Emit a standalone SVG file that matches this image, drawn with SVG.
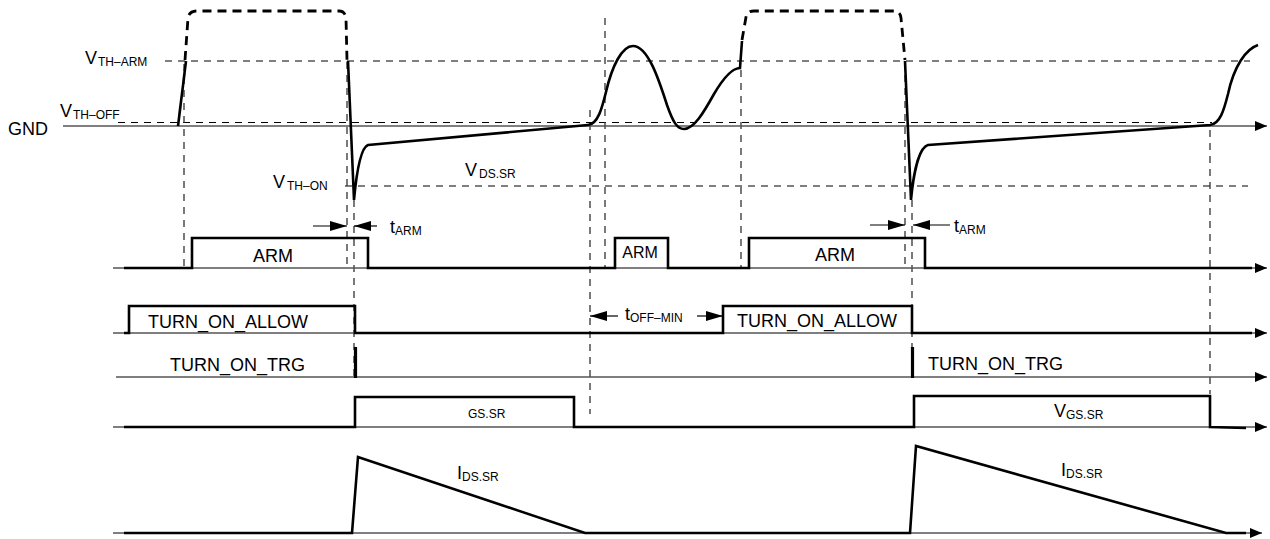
<svg xmlns="http://www.w3.org/2000/svg" width="1270" height="539" viewBox="0 0 1270 539">
<defs>
<style>
text{font-family:"Liberation Sans",Arial,sans-serif;font-size:18px;fill:#000}
.sub{font-size:12px}
.axis{stroke:#555;stroke-width:1.3;fill:none}
.sig{stroke:#000;stroke-width:2.6;fill:none;stroke-linejoin:miter}
.dash{stroke:#000;stroke-width:1.1;stroke-dasharray:7,6;fill:none}
.dashv{stroke:#333;stroke-width:1.3;stroke-dasharray:7,6;fill:none}
.dpulse{stroke:#000;stroke-width:2.8;stroke-dasharray:9,6;fill:none}
.dim{stroke:#000;stroke-width:1.2;fill:none}
</style>
<marker id="arr" viewBox="0 0 12 10" refX="12" refY="5" markerWidth="12" markerHeight="10" markerUnits="userSpaceOnUse" orient="auto">
<path d="M0,0 L12,5 L0,10 Z" fill="#000"/>
</marker>
<marker id="dimarr" viewBox="0 0 17 10" refX="17" refY="5" markerWidth="17" markerHeight="10" markerUnits="userSpaceOnUse" orient="auto">
<path d="M0,0 L17,5 L0,10 Z" fill="#000"/>
</marker>
</defs>

<g id="threshold-lines">
<line class="dash" x1="165" y1="61" x2="1250" y2="61"/>
<line class="dash" x1="118" y1="122.5" x2="1212" y2="122.5"/>
<line class="dash" x1="345" y1="186" x2="1248" y2="186"/>
</g>

<g id="time-markers">
<line class="dashv" x1="184" y1="64" x2="184" y2="268"/>
<line class="dashv" x1="347" y1="62" x2="347" y2="268"/>
<line class="dashv" x1="354" y1="200" x2="354" y2="378"/>
<line class="dashv" x1="590" y1="110" x2="590" y2="414"/>
<line class="dashv" x1="605" y1="18" x2="605" y2="268"/>
<line class="dashv" x1="741" y1="70" x2="741" y2="268"/>
<line class="dashv" x1="905" y1="62" x2="905" y2="268"/>
<line class="dashv" x1="912" y1="200" x2="912" y2="378"/>
<line class="dashv" x1="1210" y1="130" x2="1210" y2="394"/>
</g>

<g id="axes">
<line class="axis" x1="63" y1="126" x2="1267" y2="126" marker-end="url(#arr)"/>
<line class="axis" x1="113" y1="268" x2="1267" y2="268" marker-end="url(#arr)"/>
<line class="axis" x1="113" y1="333" x2="1267" y2="333" marker-end="url(#arr)"/>
<line class="axis" x1="116" y1="377" x2="1267" y2="377" marker-end="url(#arr)"/>
<line class="axis" x1="113" y1="427" x2="1267" y2="427" marker-end="url(#arr)"/>
<line class="axis" x1="113" y1="533" x2="1262" y2="533" marker-end="url(#arr)"/>
</g>

<g id="vds-waveform">
<path class="dpulse" d="M185,60 L188,18 Q189,11 197,11 L339,11 Q345,11 346,18 L347,60"/>
<path class="dpulse" d="M742,40 L746,17 Q747,11 754,11 L894,11 Q900,11 901,18 L905,60"/>
<path class="sig" d="M178,126 L186,61"/>
<path class="sig" d="M348,61 L354,200 C356,178 360,148 368,145 L588,125 C598,124 602,108 606,92 C612,66 622,46 633,46 C648,46 659,80 667,105 C673,122 677,129 684,129 C694,129 704,112 714,94 C724,77 732,68 740,68 L742,41"/>
<path class="sig" d="M905,61 L911,200 C913,178 918,148 928,145 L1210,125 C1220,124 1224,110 1228,94 C1234,66 1246,49 1258,45"/>
</g>

<g id="arm-signal">
<path class="sig" d="M124,268 L192,268 L192,238 L368,238 L368,268 L615,268 L615,238 L668,238 L668,268 L749,268 L749,238 L925,238 L925,268 L1252,268"/>
<text x="273" y="262" text-anchor="middle">ARM</text>
<text x="640" y="258" text-anchor="middle" style="font-size:16px">ARM</text>
<text x="835" y="261" text-anchor="middle">ARM</text>
</g>

<g id="turn-on-allow-signal">
<path class="sig" d="M124,333 L129,333 L129,306 L355,306 L355,333 L723,333 L723,306 L912,306 L912,333 L1252,333"/>
<text x="148" y="328">TURN_ON_ALLOW</text>
<text x="737" y="327">TURN_ON_ALLOW</text>
</g>

<g id="turn-on-trg-signal">
<line x1="355.5" y1="347" x2="355.5" y2="378" stroke="#000" stroke-width="3.2"/>
<line x1="912.5" y1="347" x2="912.5" y2="378" stroke="#000" stroke-width="3.2"/>
<text x="170" y="371">TURN_ON_TRG</text>
<text x="928" y="370">TURN_ON_TRG</text>
</g>

<g id="vgs-signal">
<path class="sig" d="M124,427 L355,427 L355,397 L574,397 L574,427 L914,427 L914,396 L1210,396 L1210,427 L1246,428"/>
<text x="468" y="418" class="sub">GS.SR</text>
<text x="1054" y="417">V<tspan class="sub" dy="2">GS.SR</tspan></text>
</g>

<g id="ids-signal">
<path class="sig" d="M124,533 L352,533 L358,457 L585,533 L910,533 L916,446 L1226,533 L1246,533"/>
<text x="457" y="479">I<tspan class="sub" dy="2">DS.SR</tspan></text>
<text x="1061" y="476">I<tspan class="sub" dy="2">DS.SR</tspan></text>
</g>

<g id="timing-dimensions">
<line class="dim" x1="313" y1="226" x2="347" y2="226" marker-end="url(#dimarr)"/>
<line class="dim" x1="377" y1="226" x2="354" y2="226" marker-end="url(#dimarr)"/>
<text x="390" y="233">t<tspan class="sub" dy="2">ARM</tspan></text>
<line class="dim" x1="870" y1="225" x2="905" y2="225" marker-end="url(#dimarr)"/>
<line class="dim" x1="950" y1="225" x2="913" y2="225" marker-end="url(#dimarr)"/>
<text x="954" y="232">t<tspan class="sub" dy="2">ARM</tspan></text>
<line class="dim" x1="618" y1="316" x2="590" y2="316" marker-end="url(#dimarr)"/>
<line class="dim" x1="697" y1="316" x2="723" y2="316" marker-end="url(#dimarr)"/>
<text x="625" y="320">t<tspan class="sub" dy="2">OFF–MIN</tspan></text>
</g>

<g id="level-labels">
<text x="85" y="64">V<tspan class="sub" dy="2" dx="1">TH–ARM</tspan></text>
<text x="60" y="117">V<tspan class="sub" dy="2" dx="1">TH–OFF</tspan></text>
<text x="8" y="135">GND</text>
<text x="273" y="188">V<tspan class="sub" dy="2" dx="2">TH–ON</tspan></text>
<text x="465" y="176">V<tspan class="sub" dy="2" dx="2">DS.SR</tspan></text>
</g>
</svg>
